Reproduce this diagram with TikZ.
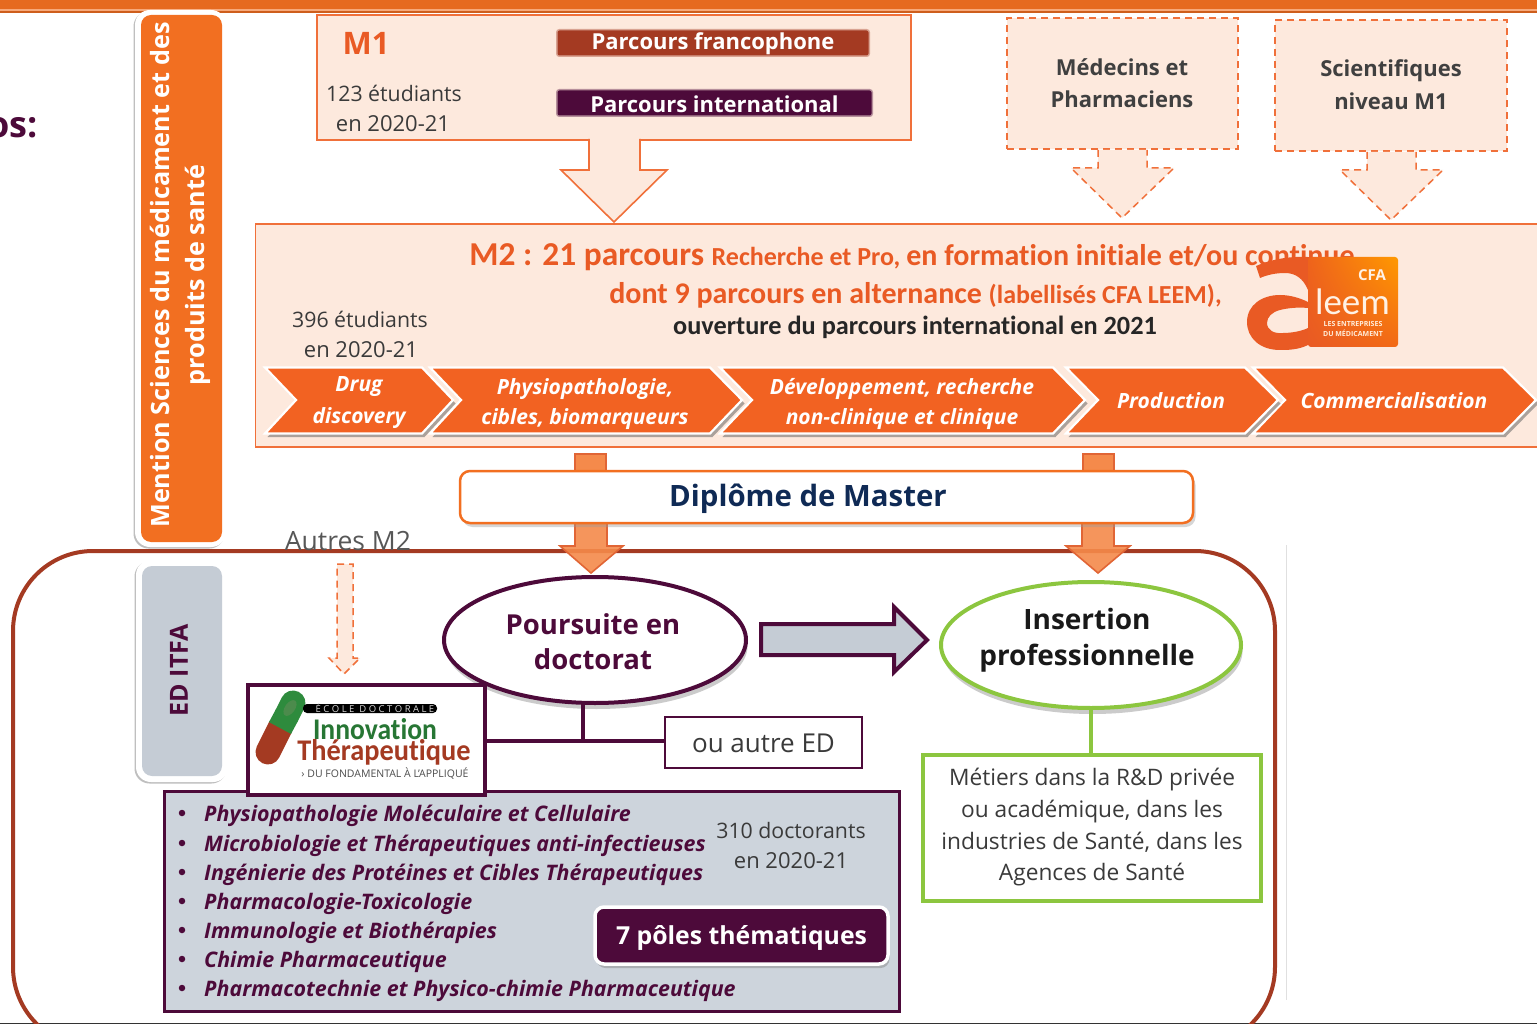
\documentclass[tikz,border=0pt]{standalone}
\usepackage{fontspec}
\setmainfont{Open Sans}
\newfontfamily\calib[Ligatures=NoCommon]{Carlito}
\usetikzlibrary{shadows,shapes.geometric,calc,shadings}
\definecolor{orangeA}{HTML}{F26F21}
\definecolor{chev}{HTML}{F26222}
\definecolor{peach}{HTML}{FDE9DD}
\definecolor{edgeO}{HTML}{F0703A}
\definecolor{titleO}{HTML}{E95A24}
\definecolor{plum}{HTML}{4D0A3A}
\definecolor{rust}{HTML}{A43A22}
\definecolor{greyB}{HTML}{CDD4DC}
\definecolor{greyC}{HTML}{C5CCD5}
\definecolor{leaf}{HTML}{8CC63F}
\definecolor{navy}{HTML}{0F2A55}
\definecolor{txt}{HTML}{3A3A3A}
\definecolor{arrowO}{HTML}{F58A4B}
\definecolor{capG}{HTML}{2E8B3D}
\newcommand{\fs}[1]{\fontsize{#1}{#1}\selectfont}
\tikzset{
 peachbox/.style={draw=edgeO,fill=peach,line width=1.6pt,inner sep=0pt},
 dashbox/.style={draw=edgeO,fill=peach,line width=1.5pt,dash pattern=on 7pt off 5pt,inner sep=0pt},
 dasharrow/.style={draw=edgeO,fill=peach,line width=1.5pt,dash pattern=on 7pt off 5pt,line join=miter},
 pill/.style={inner sep=0pt,text=white,font=\bfseries\fs{22}},
 label/.style={inner sep=0pt,text=txt,align=center},
 chevron/.style={fill=chev,draw=white,line width=2.2pt,line join=miter,drop shadow={shadow xshift=2.5pt,shadow yshift=-3.5pt,fill=black!60,opacity=.55}},
 chevtext/.style={inner sep=0pt,text=white,font=\bfseries\itshape\fs{21},align=center},
 blockO/.style={fill=arrowO,draw=edgeO!80!rust,line width=1.6pt,line join=miter},
 listitem/.style={inner sep=0pt,anchor=west,text=plum,font=\bfseries\itshape\fs{21.4}},
 bulletitem/.style={fill=plum,circle,inner sep=0pt,minimum size=6.5pt},
 plumbox/.style={draw=plum,line width=3.5pt,fill=white,inner sep=0pt},
 greenline/.style={draw=leaf,line width=3.5pt},
 plumline/.style={draw=plum,line width=3.5pt},
 sidecard/.style={fill=white,rounded corners=15pt,inner sep=0pt,drop shadow={shadow xshift=-1.5pt,shadow yshift=-1.5pt,fill=black!55,opacity=.45}},
 ringshadow/.style={drop shadow={shadow xshift=1.5pt,shadow yshift=-6pt,fill=black!45,opacity=.45}},
 sidelabel/.style={rotate=90,inner sep=0pt,font=\bfseries\fs{25.2}},
}
\begin{document}
\begin{tikzpicture}[x=1pt,y=-1pt]
\useasboundingbox (0,0) rectangle (1537,1024);
\fill[white] (0,0) rectangle (1537,1024);
% top band
\fill[orangeA!95!black] (0,0) rectangle (1537,9);
\fill[orangeA!60!white] (0,9) rectangle (1537,11);
\fill[orangeA!85!black] (0,11) rectangle (1537,13.5);
\node[anchor=east,inner sep=0pt,text=plum,font=\bfseries\fs{36}] (cut) at (38,128) {os:};
% big frame and faint rule
\draw[black!12,line width=1pt] (1286,545) -- (1286,1000);
\draw[black!80,line width=1pt] (0,1023.5) -- (1537,1023.5);
\node[draw=rust,line width=4pt,rounded corners=80pt,minimum width=1262pt,minimum height=496pt,inner sep=0pt] (frame) at (644,799) {};
% mention
\node[sidecard,minimum width=91pt,minimum height=537pt] (mentionback) at (180.5,278.5) {};
\node[fill=orangeA,rounded corners=10pt,minimum width=81pt,minimum height=527pt,inner sep=0pt] (mention) at (181.5,278.5) {};
\node[sidelabel,text=white] (mentiona) at (160,275) {Mention Sciences du médicament et des};
\node[sidelabel,text=white] (mentionb) at (198,275) {produits de santé};
% ED ITFA
\node[sidecard,minimum width=92pt,minimum height=222pt] (edback) at (182,671) {};
\node[fill=greyC,rounded corners=10pt,minimum width=80pt,minimum height=210pt,inner sep=0pt] (ed) at (182,671) {};
\node[rotate=90,inner sep=0pt,text=plum,font=\bfseries\fs{25}] (edtxt) at (179,670) {ED ITFA};
% M1
\node[peachbox,minimum width=594pt,minimum height=125pt] (m1) at (614,77.5) {};
\node[inner sep=0pt,text=titleO,font=\bfseries\fs{31}] (m1t) at (366,43) {M1};
\node[label,font=\fs{21.3}] (m1a) at (394,93) {123 étudiants};
\node[label,font=\fs{22}] (m1b) at (393,124) {en 2020-21};
\node[fill=rust,draw=rust,draw opacity=.4,line width=3pt,rounded corners=2pt,minimum width=311pt,minimum height=25pt,inner sep=0pt] (pf) at (713,43) {};
\node[pill] at (713,44) {Parcours francophone};
\node[fill=plum,draw=plum,draw opacity=.4,line width=3pt,rounded corners=2pt,minimum width=314pt,minimum height=25pt,inner sep=0pt] (pi) at (714.5,103) {};
\node[pill] at (714.5,104) {Parcours international};
% dashed boxes
\node[dashbox,minimum width=231pt,minimum height=131pt] (med) at (1122.5,83.5) {};
\node[label,font=\bfseries\fs{22},text=black!75] at (1122,67) {Médecins et};
\node[label,font=\bfseries\fs{22},text=black!75] at (1122,99) {Pharmaciens};
\node[dashbox,minimum width=232pt,minimum height=131pt] (sci) at (1391,85.5) {};
\node[label,font=\bfseries\fs{22},text=black!75] at (1391,71) {Scientifiques};
\node[label,font=\bfseries\fs{22},text=black!75] at (1391,101) {niveau M1};
% M2
\node[peachbox,anchor=north west,minimum width=1290pt,minimum height=223pt] (m2) at (254.5,223) {};
\draw[peachbox] (589,139) -- (589,170) -- (561,170) -- (614,222) -- (667,170) -- (640,170) -- (640,139);
\fill[peach] (590,136) rectangle (639,141);
\draw[dasharrow] (1098,150) -- (1098,168) -- (1071,168) -- (1122,218) -- (1174,168) -- (1147,168) -- (1147,150);
\draw[dasharrow] (1367,152) -- (1367,170) -- (1340,170) -- (1391,220) -- (1443,170) -- (1416,170) -- (1416,152);
\node[inner sep=0pt,text=titleO] (l1) at (912,257) {\calib\bfseries\fs{33.4}M2 : 21 parcours \fs{26}Recherche et Pro, \fs{30}en formation initiale et/ou continue};
\node[inner sep=0pt,text=titleO] (l2) at (915.5,295) {\calib\bfseries\fs{30}dont 9 parcours en alternance \fs{26}(labellisés CFA LEEM),};
\node[inner sep=0pt,text=black!85] (l3) at (915,327) {\calib\bfseries\fs{26.3}ouverture du parcours international en 2021};
\node[label,font=\fs{21.3}] at (360,319) {396 étudiants};
\node[label,font=\fs{22}] at (361,350) {en 2020-21};
% logo
\fill[titleO,even odd rule] (1256,266) .. controls (1275,258) and (1295,255) .. (1320,258) -- (1320,345) -- (1308,345) .. controls (1298,350) and (1287,350) .. (1280,350) .. controls (1260,350) and (1247,338) .. (1247,322) .. controls (1247,305) and (1262,295) .. (1280,295) .. controls (1290,295) and (1300,298) .. (1308,302) -- (1308,290) .. controls (1303,278) and (1295,273) .. (1285,273) .. controls (1275,273) and (1267,275) .. (1260,278) -- cycle
 (1308,308) .. controls (1298,307) and (1288,308) .. (1280,310) .. controls (1272,312) and (1267,317) .. (1267,323) .. controls (1267,330) and (1274,334) .. (1283,333) .. controls (1292,333) and (1302,331) .. (1308,328) -- cycle;
\shade[rounded corners=3pt,lower left=titleO,lower right=titleO!60!orange,upper left=titleO!75!orange,upper right=orange!80!yellow] (1308,257) rectangle (1398,347);
\node[inner sep=0pt,text=white!90!orange,font=\bfseries\fs{15}] (cfa) at (1372,275) {CFA};
\node[inner sep=0pt,text=white!90!orange,font=\calib\fs{37}] (leem) at (1352.5,302) {leem};
\node[inner sep=0pt,text=white!85!orange,font=\bfseries\fs{7}] (lea) at (1353,324) {LES ENTREPRISES};
\node[inner sep=0pt,text=white!85!orange,font=\bfseries\fs{7}] (leb) at (1353,333) {DU MÉDICAMENT};
% chevrons
\draw[chevron] (1253,367.5) -- (1503,367.5) -- (1536,400) -- (1503,433.5) -- (1253,433.5) -- (1285,400) -- cycle;
\draw[chevron] (1066,367.5) -- (1245,367.5) -- (1278,400) -- (1245,433.5) -- (1066,433.5) -- (1098,400) -- cycle;
\draw[chevron] (720,367.5) -- (1053,367.5) -- (1085,400) -- (1053,433.5) -- (720,433.5) -- (752,400) -- cycle;
\draw[chevron] (430,367.5) -- (710,367.5) -- (742,400) -- (710,433.5) -- (430,433.5) -- (461,400) -- cycle;
\draw[chevron] (265,367.5) -- (422,367.5) -- (453,400) -- (422,433.5) -- (265,433.5) -- (296,400) -- cycle;
\node[chevtext] at (359,387) {Drug};
\node[chevtext] at (359,418) {discovery};
\node[chevtext] at (585,389) {Physiopathologie,};
\node[chevtext] at (585,419) {cibles, biomarqueurs};
\node[chevtext] at (902,389) {Développement, recherche};
\node[chevtext] at (902,419) {non-clinique et clinique};
\node[chevtext] at (1171,401) {Production};
\node[chevtext] at (1394,401) {Commercialisation};
% orange arrows
\draw[blockO] (575,475) -- (575,454) -- (606,454) -- (606,475) -- cycle;
\draw[blockO] (1083,475) -- (1083,454) -- (1114,454) -- (1114,475) -- cycle;
\draw[blockO,fill opacity=.9] (575,520) -- (575,546) -- (560,546) -- (591,573) -- (623,546) -- (607,546) -- (607,520) -- cycle;
\draw[blockO,fill opacity=.9] (1082,520) -- (1082,546) -- (1066,546) -- (1098,573) -- (1130,546) -- (1114,546) -- (1114,520) -- cycle;
% diplome
\node[draw=orangeA,fill=white,line width=2.5pt,rounded corners=10pt,minimum width=733pt,minimum height=52pt,inner sep=0pt,drop shadow={shadow xshift=2.5pt,shadow yshift=-4pt,fill=black!40,opacity=.4}] (dip) at (826.5,497) {};
\node[inner sep=0pt,text=navy,font=\bfseries\fs{29.4}] at (808,499) {Diplôme de Master};
% autres
\node[inner sep=0pt,text=txt!85,font=\fs{26.5}] (autres) at (348,541) {Autres M2};
\draw[dasharrow] (337,564) -- (353,564) -- (353,658) -- (360,658) -- (344,674) -- (329,658) -- (337,658) -- cycle;
% ellipses
\node[ellipse,draw=plum,line width=4pt,fill=white,minimum width=302pt,minimum height=126pt,inner sep=0pt,ringshadow] (pours) at (595,640) {};
\node[ellipse,draw=leaf,line width=4pt,fill=white,minimum width=300pt,minimum height=126pt,inner sep=0pt,ringshadow] (ins) at (1091,645) {};
\node[inner sep=0pt,text=plum,font=\bfseries\fs{27.5}] at (593,624) {Poursuite en};
\node[inner sep=0pt,text=plum,font=\bfseries\fs{27.5}] at (593,659) {doctorat};
\node[inner sep=0pt,text=black!90,font=\bfseries\fs{28}] at (1087,619) {Insertion};
\node[inner sep=0pt,text=black!90,font=\bfseries\fs{28}] at (1087,658) {professionnelle};
\draw[fill=greyC,draw=plum,line width=4pt,line join=miter] (761,624) -- (894,624) -- (894,607) -- (927,640) -- (894,672) -- (894,655) -- (761,655) -- cycle;
% grey box
\node[draw=plum,fill=greyB,line width=3pt,minimum width=735pt,minimum height=220pt,inner sep=0pt] (poles) at (531.5,901) {};
% logo box
\node[plumbox,minimum width=237pt,minimum height=110pt] (logo) at (366.5,740) {};
\node[draw=plum,fill=white,line width=2.5pt,minimum width=197pt,minimum height=51pt,inner sep=0pt] (autre) at (763.5,742.5) {};
\node[label,font=\fs{26}] at (763.5,743) {ou autre ED};
\coordinate (tee) at (583,741);
\draw[plumline] (583,702) -- (tee);
\draw[plumline] (logo.east |- tee) -- (autre.west |- tee);
% logo contents
\draw[line width=25pt,line cap=round,draw=rust] (268,752) -- (280,728);
\draw[line width=25pt,line cap=round,draw=capG] (293,703) -- (287,715);
\draw[line width=25pt,draw=capG] (287,715) -- (280,728);
\fill[green!35!black!70,rotate around={55:(290,708)}] (290,708) ellipse (9pt and 5pt);
\fill[black,rounded corners=4pt] (303,704) rectangle (437,713);
\node[inner sep=0pt,text=white!85!black,font=\fs{9.5}] (ecole) at (375,708.5) {É C O L E\ \ D O C T O R A L E};
\node[inner sep=0pt,text=capG!85!black,font=\bfseries\calib\fs{30},xscale=.92,transform shape] (inno) at (375,729) {Innovation};
\node[inner sep=0pt,text=rust,font=\bfseries\calib\fs{30},xscale=.945,transform shape] (thera) at (384,752) {Thérapeutique};
\node[inner sep=0pt,text=black!70,font=\fs{10.5}] (fond) at (385,773) {› DU FONDAMENTAL À L'APPLIQUÉ};
% metiers
\draw[greenline] (ins.south) -- (1091,755);
\node[draw=leaf,line width=3.5pt,fill=white,minimum width=338pt,minimum height=146pt,inner sep=0pt] (met) at (1092,828) {};
\node[label,font=\fs{22.7}] at (1092,780) {Métiers dans la R\&D privée};
\node[label,font=\fs{22.7}] at (1092,812) {ou académique, dans les};
\node[label,font=\fs{22.7}] at (1092,842) {industries de Santé, dans les};
\node[label,font=\fs{22.7}] at (1092,875) {Agences de Santé};
% list
\foreach \yy/\tt in {813/Physiopathologie Moléculaire et Cellulaire,843/Microbiologie et Thérapeutiques anti-infectieuses,872/Ingénierie des Protéines et Cibles Thérapeutiques,901/Pharmacologie-Toxicologie,930/Immunologie et Biothérapies,959/Chimie Pharmaceutique,988/Pharmacotechnie et Physico-chimie Pharmaceutique}{
 \node[bulletitem] at (182,\yy) {};
 \node[listitem] at (204,\yy+3) {\tt};
}
\node[label,font=\fs{21.3}] at (791,831) {310 doctorants};
\node[label,font=\fs{22}] at (791,861) {en 2020-21};
\node[draw=white,line width=3.5pt,fill=plum,rounded corners=9pt,minimum width=293pt,minimum height=57pt,inner sep=0pt,drop shadow={shadow xshift=1.5pt,shadow yshift=-4pt,fill=black!50,opacity=.45}] (seven) at (741.5,935.5) {};
\node[inner sep=0pt,text=white,font=\bfseries\fs{24.8}] at (741.5,938) {7 pôles thématiques};
\end{tikzpicture}
\end{document}
